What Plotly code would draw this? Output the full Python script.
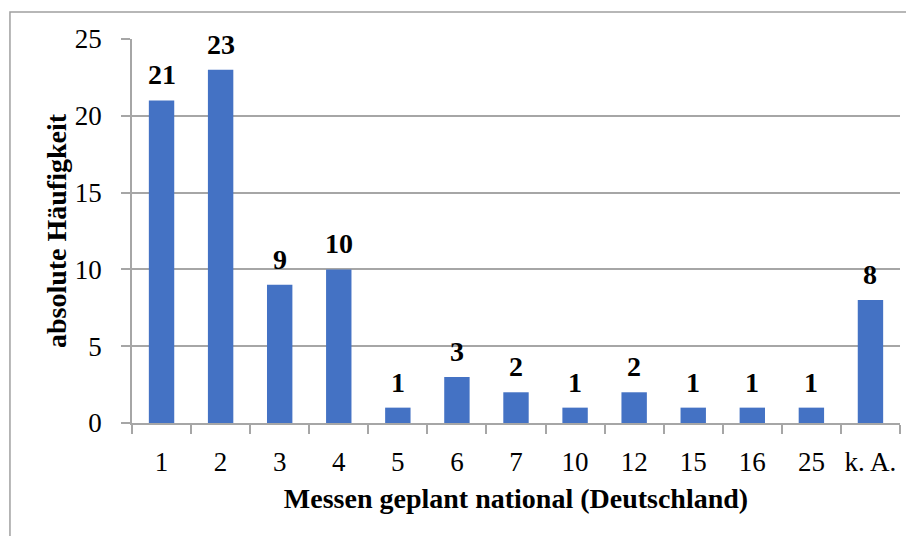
import plotly.graph_objects as go

# data
categories = ["1", "2", "3", "4", "5", "6", "7", "10", "12", "15", "16", "25", "k. A."]
counts = [21, 23, 9, 10, 1, 3, 2, 1, 2, 1, 1, 1, 8]

FONT = "Liberation Serif, Times New Roman, serif"
GRID = "#a6a6a6"

fig = go.Figure()
fig.add_trace(
    go.Bar(
        x=categories,
        y=counts,
        marker=dict(color="#4472C4", line=dict(width=0)),
        hoverinfo="x+y",
    )
)

# value labels above the bars (x given as category position, since
# labels like "10" would otherwise be read as positions themselves)
for pos, val in enumerate(counts):
    fig.add_annotation(
        x=pos,
        y=val,
        text=f"<b>{val}</b>",
        showarrow=False,
        yanchor="bottom",
        yshift=8,
        font=dict(family=FONT, size=28, color="black"),
    )

# the page body keeps an 8px margin, so the figure is 8px smaller than the window
fig.update_layout(
    width=906,
    height=528,
    margin=dict(l=124, r=14, t=31, b=113),
    paper_bgcolor="white",
    plot_bgcolor="white",
    bargap=0.57,
    showlegend=False,
    font=dict(family=FONT, color="black"),
    xaxis=dict(
        type="category",
        categoryorder="array",
        categoryarray=categories,
        range=[-0.5, len(categories) - 0.5],
        automargin=False,
        showline=True,
        linecolor=GRID,
        linewidth=1.5,
        ticks="outside",
        tickson="boundaries",
        ticklen=9,
        tickcolor=GRID,
        tickwidth=1.5,
        tickangle=0,
        tickfont=dict(size=27),
        ticklabelstandoff=14,
        title=dict(
            text="<b>Messen geplant national (Deutschland)</b>",
            font=dict(size=28),
            standoff=12,
        ),
    ),
    yaxis=dict(
        range=[0, 25],
        dtick=5,
        automargin=False,
        showgrid=True,
        gridcolor=GRID,
        gridwidth=1.5,
        showline=True,
        linecolor=GRID,
        linewidth=1.5,
        ticks="outside",
        ticklen=9,
        tickcolor=GRID,
        tickwidth=1.5,
        tickfont=dict(size=27),
        ticklabelstandoff=14,
        zeroline=False,
        title=dict(
            text="<b>absolute Häufigkeit</b>",
            font=dict(size=28),
            standoff=0,
        ),
    ),
)

# outer chart frame (runs off the right and bottom edges of the picture)
fig.add_shape(
    type="rect",
    xref="paper",
    yref="paper",
    x0=-0.1589,
    x1=1.03,
    y0=-0.32,
    y1=1.0703,
    line=dict(color="#a0a0a0", width=1.5),
    layer="below",
)

fig.write_html("out.html")
